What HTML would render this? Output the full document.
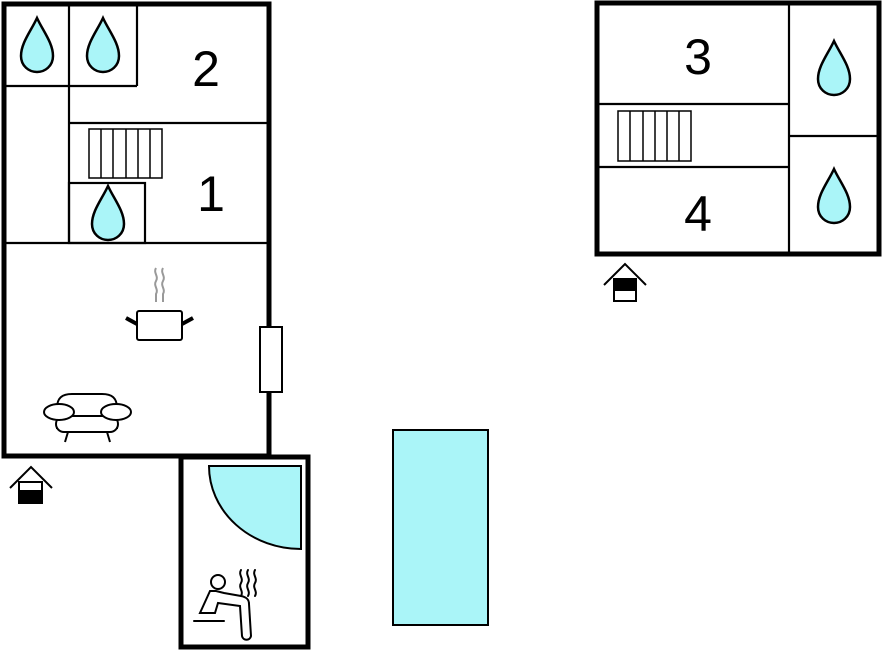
<!DOCTYPE html>
<html><head><meta charset="utf-8"><style>html,body{margin:0;padding:0;background:#fff}svg{display:block}</style></head>
<body>
<svg width="882" height="652" viewBox="0 0 882 652" xmlns="http://www.w3.org/2000/svg">
<defs>
<path id="drop" d="M0,-27 C-6,-14 -16,-2 -16,11 C-16,21 -8,27 0,27 C8,27 16,21 16,11 C16,-2 6,-14 0,-27 Z" fill="#aaf5f8" stroke="#000" stroke-width="2.5"/>
</defs>
<g fill="none" stroke="#000">
<!-- left building -->
<rect x="4" y="4" width="265" height="452" stroke-width="5"/>
<g stroke-width="2.2">
<line x1="4" y1="86" x2="137" y2="86"/>
<line x1="137" y1="4" x2="137" y2="86"/>
<line x1="69" y1="4" x2="69" y2="243"/>
<line x1="69" y1="123" x2="269" y2="123"/>
<rect x="69" y="183" width="76" height="60"/>
<line x1="4" y1="243" x2="269" y2="243"/>
</g>
<g stroke-width="1.5">
<rect x="89" y="129" width="73" height="49"/>
<line x1="101" y1="129" x2="101" y2="178"/><line x1="113" y1="129" x2="113" y2="178"/>
<line x1="126" y1="129" x2="126" y2="178"/><line x1="138" y1="129" x2="138" y2="178"/>
<line x1="150" y1="129" x2="150" y2="178"/>
</g>
<!-- window -->
<rect x="260" y="327" width="22" height="65" fill="#fff" stroke-width="2"/>
<!-- sauna box -->
<path d="M181,457 V647 H308 V457 Z" stroke-width="5"/>
<!-- right building -->
<rect x="597" y="3" width="282" height="251" stroke-width="5"/>
<g stroke-width="2.2">
<line x1="789" y1="3" x2="789" y2="254"/>
<line x1="597" y1="104" x2="789" y2="104"/>
<line x1="597" y1="167" x2="789" y2="167"/>
<line x1="789" y1="136" x2="879" y2="136"/>
</g>
<g stroke-width="1.5">
<rect x="618" y="111" width="73" height="50"/>
<line x1="630" y1="111" x2="630" y2="161"/><line x1="643" y1="111" x2="643" y2="161"/>
<line x1="655" y1="111" x2="655" y2="161"/><line x1="667" y1="111" x2="667" y2="161"/>
<line x1="679" y1="111" x2="679" y2="161"/>
</g>
</g>
<use href="#drop" x="37" y="45"/>
<use href="#drop" x="103" y="45"/>
<use href="#drop" x="108" y="213"/>
<use href="#drop" x="834" y="68"/>
<use href="#drop" x="834" y="196"/>
<g font-family="Liberation Sans, sans-serif" font-size="50" text-anchor="middle" fill="#000">
<text x="206" y="86">2</text>
<text x="211" y="211">1</text>
<text x="698" y="74">3</text>
<text x="698" y="231">4</text>
</g>
<!-- pot -->
<g stroke="#999" stroke-width="2" fill="none">
<path d="M156,268 c-3,5 3,8 0,13 c-3,5 3,8 0,13 v8"/>
<path d="M163,268 c-3,5 3,8 0,13 c-3,5 3,8 0,13 v8"/>
</g>
<rect x="137" y="311" width="45" height="29" rx="2" fill="#fff" stroke="#000" stroke-width="2"/>
<line x1="126" y1="318" x2="137" y2="324" stroke="#000" stroke-width="4"/>
<line x1="193" y1="318" x2="182" y2="324" stroke="#000" stroke-width="4"/>
<!-- sofa -->
<g fill="#fff" stroke="#000" stroke-width="2">
<path d="M57,408 c0,-10 5,-14 15,-14 h30 c10,0 15,4 15,14 v20 h-60 z"/>
<rect x="56" y="416" width="62" height="16" rx="8"/>
<ellipse cx="59" cy="412" rx="15" ry="8"/>
<ellipse cx="116" cy="412" rx="15" ry="8"/>
<line x1="68" y1="432" x2="65" y2="442"/><line x1="107" y1="432" x2="110" y2="442"/>
</g>
<!-- entrance left -->
<g stroke="#000" stroke-width="2" fill="none">
<path d="M10,488 L31,467 L52,488"/>
<rect x="19" y="482" width="23" height="21" fill="#fff"/>
<rect x="19" y="491" width="23" height="12" fill="#000"/>
</g>
<!-- entrance right -->
<g stroke="#000" stroke-width="2" fill="none">
<path d="M604,285 L625,264 L646,285"/>
<rect x="614" y="279" width="22" height="22" fill="#fff"/>
<rect x="614" y="279" width="22" height="11" fill="#000"/>
</g>
<!-- quarter circle -->
<path d="M209,466 H301 V549 A92,83 0 0 1 209,466 Z" fill="#aaf5f8" stroke="#000" stroke-width="2"/>
<!-- sauna person -->
<g stroke="#000" stroke-width="2" fill="none" stroke-linecap="round">
<circle cx="218" cy="582" r="7" fill="#fff"/>
<path d="M210,591 L200,613 H215 L218,603 L240,606 L242,636 c1,5 8,5 9,0 L249,604 c0,-5 -3,-7 -8,-8 L224,593 L216,591 Z"/>
<line x1="194" y1="621" x2="224" y2="621"/>
<path d="M241,570 c-3,5 3,8 0,13 c-3,5 3,8 0,13"/>
<path d="M248,570 c-3,5 3,8 0,13 c-3,5 3,8 0,13"/>
<path d="M255,570 c-3,5 3,8 0,13 c-3,5 3,8 0,13"/>
</g>
<!-- pool -->
<rect x="393" y="430" width="95" height="195" fill="#aaf5f8" stroke="#000" stroke-width="2"/>
</svg>
</body></html>
